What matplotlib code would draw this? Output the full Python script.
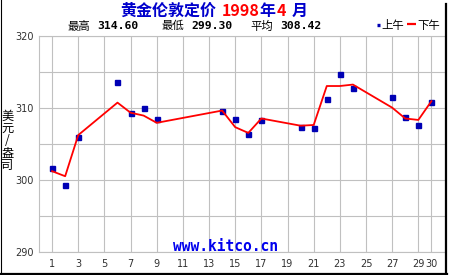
#! /usr/bin/env python3

import matplotlib
matplotlib.use("Agg")
import matplotlib.pyplot as plt
from matplotlib.lines import Line2D
from matplotlib.text import Annotation
from matplotlib.ticker import MultipleLocator


# London gold fixing, April 1998 (USD / oz), AM fix and PM fix.
days = [1, 2, 3, 6, 7, 8, 9, 14, 15, 16, 17, 20, 21, 22, 23, 24, 27, 28, 29, 30]
am_fix = [301.6, 299.3, 305.9, 313.6, 309.3, 309.9, 308.4, 309.6, 308.4, 306.3,
          308.3, 307.3, 307.2, 311.2, 314.6, 312.7, 311.5, 308.7, 307.6, 310.8]
pm_fix = [301.2, 300.5, 306.2, 310.7, 309.3, 308.9, 307.9, 309.6, 307.3, 306.5,
          308.5, 307.5, 307.6, 313.0, 313.0, 313.2, 310.0, 308.5, 308.3, 310.9]
xticks = [1, 3, 5, 7, 9, 11, 13, 15, 17, 19, 21, 23, 25, 27, 29, 30]
yticks = [290, 300, 310, 320]

W, H = 450, 275
cjk = ["Noto Sans CJK SC", "DejaVu Sans"]
blue = "#0000cc"
mark_blue = "#0000b4"
red = "#ff0000"
grid_c = "#c0c0c0"

fig = plt.figure(figsize=(W / 100, H / 100), dpi=100)
ax = fig.add_axes([39 / W, 1 - 252 / H, (444.5 - 39) / W, (252 - 35.5) / H])

ax.plot(days, am_fix, ls="none", marker="s", ms=3.6, mfc=mark_blue,
        mec=mark_blue, zorder=3)
ax.plot(days, pm_fix, color=red, lw=1.3, zorder=4)

ax.set_xlim(0, 31)
ax.set_ylim(290, 320)
ax.set_xticks(xticks)
ax.set_yticks(yticks)
ax.yaxis.set_minor_locator(MultipleLocator(5))
ax.grid(True, which="both", color=grid_c, lw=0.8)
ax.set_axisbelow(True)
ax.tick_params(which="both", length=0)
ax.tick_params(axis="x", pad=5, labelsize=7, labelcolor="#303030")
ax.tick_params(axis="y", pad=4, labelsize=7, labelcolor="#303030")
for s in ax.spines.values():
    s.set_color(grid_c)
    s.set_linewidth(0.8)

# y label, characters stacked
fig.text(7.5 / W, 1 - 141 / H, "美\n元\n/\n盎\n司", family=cjk, fontsize=8.8,
         ha="center", va="center", linespacing=0.92)

# title, pieces in two colours, each placed after the previous one
pieces = [("黄金伦敦定价", blue, 0), ("1998", red, 4), ("年", blue, 0),
          ("4", red, 1), ("月", blue, 4)]
last = None
for txt, col, gap in pieces:
    kw = dict(color=col, family=cjk, fontsize=11.5, weight="bold")
    if last is None:
        last = fig.text(120 / W, 1 - 16 / H, txt, ha="left", va="baseline", **kw)
    else:
        last = fig.add_artist(Annotation(txt, xy=(1, 0), xycoords=last,
                                         xytext=(gap, 0), textcoords="offset points",
                                         ha="left", va="bottom", **kw))

# subtitle with max / min / mean
y_sub = 1 - 26 / H
for x0, lab in [(68, "最高"), (162, "最低"), (250, "平均")]:
    fig.text(x0 / W, y_sub, lab, family=cjk, fontsize=8.2, va="center", ha="left")
for x0, val in [(97, "314.60"), (191, "299.30"), (280, "308.42")]:
    fig.text(x0 / W, y_sub, val, family="DejaVu Sans Mono", weight="bold",
             fontsize=8.2, va="center", ha="left")

# legend
fig.add_artist(Line2D([376.5 / W, 379.5 / W], [1 - 24.5 / H] * 2, color=mark_blue,
                      lw=2.4, solid_capstyle="butt"))
fig.text(381 / W, y_sub, "上午", family=cjk, fontsize=8.2, va="center", ha="left")
fig.add_artist(Line2D([406.5 / W, 415.5 / W], [1 - 24 / H] * 2, color=red,
                      lw=1.6, solid_capstyle="butt"))
fig.text(417 / W, y_sub, "下午", family=cjk, fontsize=8.2, va="center", ha="left")

# watermark
fig.text(225.5 / W, 1 - 246.5 / H, "www.kitco.cn", family="DejaVu Sans Mono",
         weight="bold", fontsize=10.5, color="#0000ee", ha="center", va="center")

# frame (left, right, bottom)
fig.add_artist(Line2D([0.5 / W, 0.5 / W], [0, 1], color="black", lw=0.8))
fig.add_artist(Line2D([446 / W, 446 / W], [0, 1 - 4 / H], color="black", lw=1.6))
fig.add_artist(Line2D([0, 447 / W], [1 - 274 / H] * 2, color="black", lw=1.6))

fig.savefig("out.png", dpi=100)
